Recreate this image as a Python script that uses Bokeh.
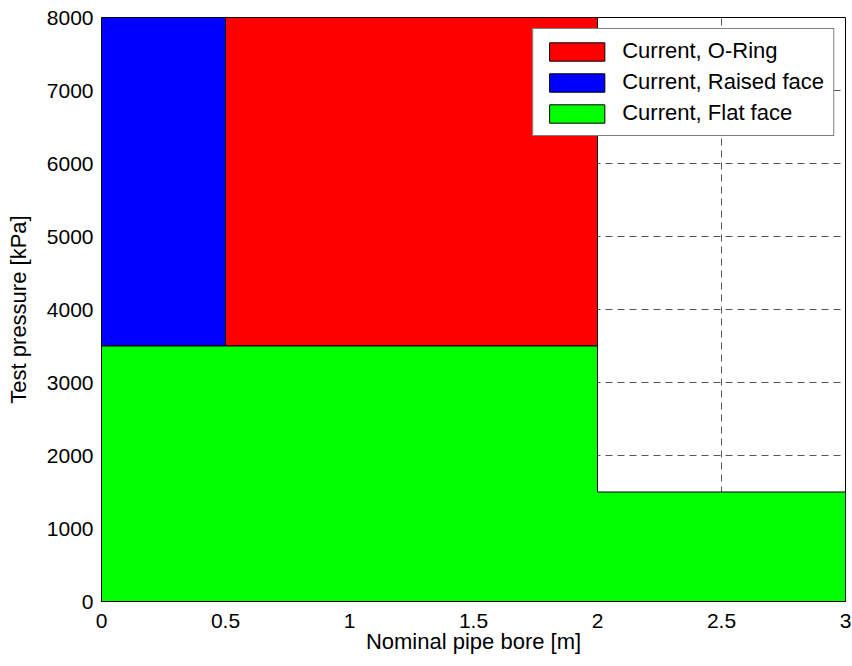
from bokeh.plotting import figure
from bokeh.models import FixedTicker, Legend, LegendItem, Range1d
from bokeh.embed import file_html
from bokeh.resources import INLINE

# ---- data ----
x_ticks = [0, 0.5, 1, 1.5, 2, 2.5, 3]
x_tick_labels = ["0", "0.5", "1", "1.5", "2", "2.5", "3"]
y_ticks = [0, 1000, 2000, 3000, 4000, 5000, 6000, 7000, 8000]
y_tick_labels = ["0", "1000", "2000", "3000", "4000", "5000", "6000", "7000", "8000"]

series_names = ["Current, O-Ring", "Current, Raised face", "Current, Flat face"]
oring_x = [0.5, 2, 2, 0.5]
oring_y = [3500, 3500, 8000, 8000]
raised_x = [0, 0.5, 0.5, 0]
raised_y = [3500, 3500, 8000, 8000]
flat_x = [0, 3, 3, 2, 2, 0]
flat_y = [0, 0, 1500, 1500, 3500, 3500]
colors = ["#ff0000", "#0000ff", "#00ff00"]

FONT = "Liberation Sans"

p = figure(width=852, height=666, output_backend="svg", toolbar_location=None,
           x_range=Range1d(0, 3), y_range=Range1d(0, 8000),
           min_border_left=101, min_border_right=7, min_border_top=17, min_border_bottom=65)
p.frame_width = 744
p.frame_height = 584
p.background_fill_color = "white"
p.border_fill_color = "white"
p.outline_line_color = "black"
p.outline_line_width = 1

renderers = []
for xs, ys, c in zip([oring_x, raised_x, flat_x], [oring_y, raised_y, flat_y], colors):
    r = p.patch(xs, ys, fill_color=c, line_color="black", line_width=1)
    renderers.append(r)

# grid
for g in (p.xgrid, p.ygrid):
    g.grid_line_color = "#444444"
    g.grid_line_dash = "7 5"
    g.grid_line_width = 1
    g.grid_line_alpha = 0.9
p.xgrid.ticker = FixedTicker(ticks=x_ticks)
p.ygrid.ticker = FixedTicker(ticks=y_ticks)

bottom_ax = p.below[0]
left_ax = p.left[0]
bottom_ax.ticker = FixedTicker(ticks=x_ticks)
left_ax.ticker = FixedTicker(ticks=y_ticks)
bottom_ax.major_label_overrides = {t: l for t, l in zip(x_ticks, x_tick_labels)}
left_ax.major_label_overrides = {t: l for t, l in zip(y_ticks, y_tick_labels)}
bottom_ax.axis_label = "Nominal pipe bore [m]"
left_ax.axis_label = "Test pressure [kPa]"

for ax in [bottom_ax, left_ax]:
    ax.axis_line_color = "black"
    ax.major_tick_line_color = None
    ax.major_tick_in = 0
    ax.major_tick_out = 0
    ax.minor_tick_line_color = None
    ax.major_label_text_font = FONT
    ax.major_label_text_color = "black"
    ax.major_label_text_font_size = "21px"
    ax.axis_label_text_font = FONT
    ax.axis_label_text_font_style = "normal"
    ax.axis_label_text_color = "black"
    ax.axis_label_text_font_size = "22px"

bottom_ax.major_label_standoff = 12
bottom_ax.axis_label_standoff = -2
left_ax.major_label_standoff = 8
left_ax.axis_label_standoff = 13

legend = Legend(items=[LegendItem(label=n, renderers=[r]) for n, r in zip(series_names, renderers)],
                location="top_right")
legend.margin = 11
legend.padding = 9
legend.spacing = 5
legend.glyph_width = 69
legend.glyph_height = 23
legend.label_height = 23
legend.label_width = 200
legend.label_standoff = 11
legend.label_text_font = FONT
legend.label_text_font_size = "22px"
legend.label_text_color = "black"
legend.border_line_color = "black"
legend.border_line_width = 1
legend.background_fill_color = "white"
legend.background_fill_alpha = 1
p.add_layout(legend, "center")

open("out.html", "w").write(file_html(p, INLINE))
